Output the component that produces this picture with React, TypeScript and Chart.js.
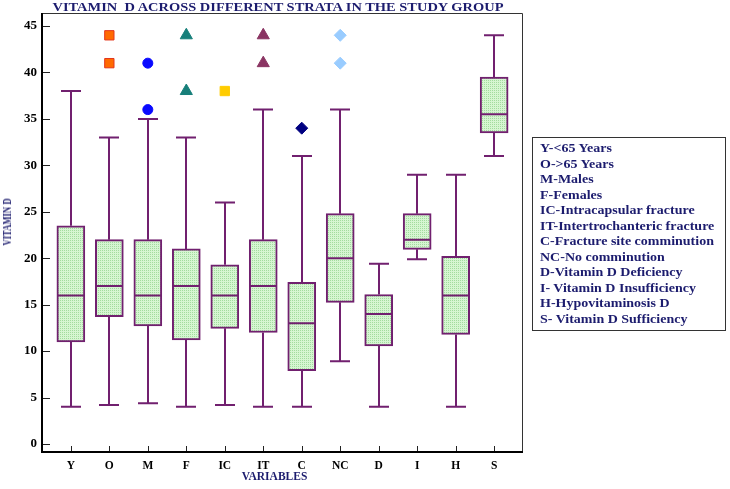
import React, { useEffect, useRef } from 'react';
import { Chart, registerables } from 'chart.js';

Chart.register(...registerables);

// ---- data ----
const categories = ['Y', 'O', 'M', 'F', 'IC', 'IT', 'C', 'NC', 'D', 'I', 'H', 'S'];
const whiskerLow = [4, 4.2, 4.4, 4, 4.2, 4, 4, 8.9, 4, 19.9, 4, 31];
const q1 = [11, 13.7, 12.7, 11.2, 12.45, 12, 7.9, 15.25, 10.55, 20.96, 11.8, 33.5];
const median = [16, 17, 16, 17, 16, 17, 13, 20, 14, 22, 16, 35.5];
const q3 = [23.5, 22, 22, 21, 19.3, 22, 17.4, 24.8, 16.1, 24.8, 20.2, 39.5];
const whiskerHigh = [38, 33, 35, 33, 26, 36, 31, 36, 19.4, 29, 29, 44];

const outliersO = [44, 41];
const outliersM = [41, 36];
const outliersF = [44, 38];
const outliersIC = [38];
const outliersIT = [44, 41];
const outliersC = [34];
const outliersNC = [44, 41];

const yTicks = [0, 5, 10, 15, 20, 25, 30, 35, 40, 45];

const legendLines = [
  'Y-<65 Years',
  'O->65 Years',
  'M-Males',
  'F-Females',
  'IC-Intracapsular fracture',
  'IT-Intertrochanteric fracture',
  'C-Fracture site comminution',
  'NC-No comminution',
  'D-Vitamin D Deficiency',
  'I- Vitamin D Insufficiency',
  'H-Hypovitaminosis D',
  'S- Vitamin D Sufficiency',
];

const PURPLE = '#71206f';
const NAVY = '#1c1c6e';
const FONT = '"Liberation Serif", "Times New Roman", serif';

function makePattern(ctx: CanvasRenderingContext2D) {
  const c = document.createElement('canvas');
  c.width = 2;
  c.height = 2;
  const p = c.getContext('2d')!;
  p.fillStyle = '#d6f6d2';
  p.fillRect(0, 0, 2, 2);
  p.fillStyle = '#a3dc9f';
  p.fillRect(0, 0, 1, 1);
  return ctx.createPattern(c, 'repeat')!;
}

function pos(cat: string) {
  return categories.indexOf(cat) + 1;
}

const boxPlugin = {
  id: 'boxWhiskers',
  afterDatasetsDraw(chart: any) {
    const { ctx, scales } = chart;
    const xs = scales.x;
    const ys = scales.y;
    ctx.save();
    ctx.strokeStyle = PURPLE;
    ctx.lineWidth = 2;
    categories.forEach((_, i) => {
      const x = Math.round(xs.getPixelForValue(i + 1));
      const yHi = ys.getPixelForValue(whiskerHigh[i]);
      const yQ3 = ys.getPixelForValue(q3[i]);
      const yQ1 = ys.getPixelForValue(q1[i]);
      const yLo = ys.getPixelForValue(whiskerLow[i]);
      const yMed = ys.getPixelForValue(median[i]);
      ctx.beginPath();
      ctx.moveTo(x, yQ3);
      ctx.lineTo(x, yHi);
      ctx.moveTo(x - 10, yHi);
      ctx.lineTo(x + 10, yHi);
      ctx.moveTo(x, yQ1);
      ctx.lineTo(x, yLo);
      ctx.moveTo(x - 10, yLo);
      ctx.lineTo(x + 10, yLo);
      ctx.moveTo(x - 14, yMed);
      ctx.lineTo(x + 14, yMed);
      ctx.stroke();
    });
    ctx.restore();
  },
  afterDraw(chart: any) {
    const { ctx, chartArea, scales } = chart;
    const { left, right, top, bottom } = chartArea;
    ctx.save();
    ctx.strokeStyle = '#333';
    ctx.lineWidth = 1;
    ctx.beginPath();
    ctx.moveTo(left, top + 0.5);
    ctx.lineTo(right - 0.5, top + 0.5);
    ctx.lineTo(right - 0.5, bottom);
    ctx.stroke();
    ctx.strokeStyle = '#222';
    ctx.beginPath();
    yTicks.forEach((v) => {
      const y = Math.round(scales.y.getPixelForValue(v)) + 0.5;
      ctx.moveTo(left, y);
      ctx.lineTo(left + 8, y);
    });
    categories.forEach((_, i) => {
      const x = Math.round(scales.x.getPixelForValue(i + 1)) + 0.5;
      ctx.moveTo(x, bottom);
      ctx.lineTo(x, bottom - 6);
    });
    ctx.stroke();
    ctx.strokeStyle = '#000';
    ctx.lineWidth = 2;
    ctx.beginPath();
    ctx.moveTo(left, top);
    ctx.lineTo(left, bottom);
    ctx.lineTo(right, bottom);
    ctx.stroke();
    ctx.restore();
  },
};

export default function App() {
  const ref = useRef<HTMLCanvasElement>(null);

  useEffect(() => {
    const canvas = ref.current!;
    const ctx = canvas.getContext('2d')!;
    const pattern = makePattern(ctx);

    const scatter = (cat: string, vals: number[], style: string, radius: number, fill: string, border: string) => ({
      type: 'scatter' as const,
      data: vals.map((v) => ({ x: pos(cat), y: v })),
      pointStyle: style,
      pointRadius: radius,
      backgroundColor: fill,
      borderColor: border,
      borderWidth: 1,
    });

    const chart = new Chart(canvas, {
      type: 'bar',
      data: {
        datasets: [
          {
            type: 'bar',
            data: categories.map((_, i) => ({ x: i + 1, y: [q1[i], q3[i]] })) as any,
            backgroundColor: pattern,
            borderColor: PURPLE,
            borderWidth: 2,
            borderSkipped: false,
            barThickness: 28,
          } as any,
          scatter('O', outliersO, 'rect', 6.6, '#ff6a00', '#e3361c'),
          scatter('M', outliersM, 'circle', 5, '#0a0aff', '#0a0aff'),
          scatter('F', outliersF, 'triangle', 7, '#177f7a', '#177f7a'),
          scatter('IC', outliersIC, 'rect', 6.6, '#ffcc00', '#ffcc00'),
          scatter('IT', outliersIT, 'triangle', 7, '#8a3462', '#8a3462'),
          scatter('C', outliersC, 'rectRot', 6, '#000080', '#000080'),
          scatter('NC', outliersNC, 'rectRot', 6, '#99ccff', '#99ccff'),
        ] as any,
      },
      options: {
        responsive: false,
        animation: false,
        layout: { padding: { top: 13, right: 207, left: 0, bottom: 0 } },
        plugins: {
          legend: { display: false },
          tooltip: { enabled: false },
          title: { display: false },
        },
        scales: {
          x: {
            type: 'linear',
            offset: false,
            min: 0.25,
            max: 12.75,
            grid: { display: false, drawTicks: false, offset: false },
            border: { display: false },
            afterBuildTicks: (s: any) => {
              s.ticks = categories.map((_, i) => ({ value: i + 1 }));
            },
            afterFit: (s: any) => {
              s.height = 37;
            },
            ticks: {
              autoSkip: false,
              maxRotation: 0,
              padding: 7,
              color: '#000',
              font: { family: FONT, size: 11.5, weight: 'bold' },
              callback: (v: any) => categories[Math.round(Number(v)) - 1] ?? '',
            },
          },
          y: {
            type: 'linear',
            min: -0.86,
            max: 46.4,
            grid: { display: false, drawTicks: false },
            border: { display: false },
            afterBuildTicks: (s: any) => {
              s.ticks = yTicks.map((v) => ({ value: v }));
            },
            afterFit: (s: any) => {
              s.width = 42;
            },
            ticks: {
              padding: 5,
              color: '#000',
              font: { family: FONT, size: 13, weight: 'bold' },
            },
          },
        } as any,
      },
      plugins: [boxPlugin],
    });
    return () => chart.destroy();
  }, []);

  return (
    <div style={{ position: 'absolute', left: 0, top: 0, width: 730, height: 489, background: '#fff', overflow: 'hidden' }}>
      <canvas ref={ref} width={730} height={489} style={{ position: 'absolute', left: 0, top: 0, width: 730, height: 489 }} />
      <div
        style={{
          position: 'absolute', left: 0, top: 1, width: 556, textAlign: 'center', whiteSpace: 'pre',
          font: `bold 14.45px ${FONT}`, lineHeight: '14px', color: NAVY,
          transform: 'scaleY(0.8)', transformOrigin: '50% 0',
        }}
      >
        {'VITAMIN  D ACROSS DIFFERENT STRATA IN THE STUDY GROUP'}
      </div>
      <div
        style={{
          position: 'absolute', left: 7, top: 222, whiteSpace: 'nowrap',
          font: `bold 12px ${FONT}`, lineHeight: '12px', color: NAVY,
          transform: 'translate(-50%, -50%) rotate(-90deg) scaleX(0.72)',
        }}
      >
        VITAMIN D
      </div>
      <div
        style={{
          position: 'absolute', left: 0, top: 471, width: 549, textAlign: 'center', whiteSpace: 'nowrap',
          font: `bold 11.5px ${FONT}`, lineHeight: '11.5px', color: NAVY,
        }}
      >
        VARIABLES
      </div>
      <div
        style={{
          position: 'absolute', left: 532, top: 137, width: 194, height: 194,
          border: '1px solid #333', boxSizing: 'border-box',
        }}
      />
      {legendLines.map((t, k) => (
        <div
          key={t}
          style={{
            position: 'absolute', left: 540, top: 149 + 15.5 * k - 7.75, height: 15.5, whiteSpace: 'pre',
            font: `bold 14px ${FONT}`, lineHeight: '15.5px', color: NAVY,
            transform: 'scaleY(0.83)', transformOrigin: '0 50%',
          }}
        >
          {t}
        </div>
      ))}
    </div>
  );
}
